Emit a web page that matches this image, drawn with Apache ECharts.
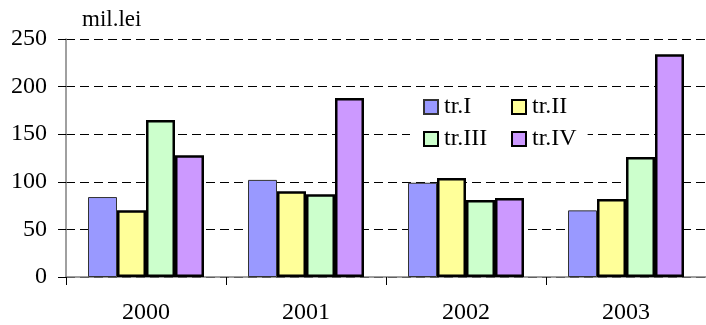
<!DOCTYPE html>
<html>
<head>
<meta charset="utf-8">
<script src="https://cdn.jsdelivr.net/npm/echarts@6/dist/echarts.min.js"></script>
<style>
html,body{margin:0;padding:0;background:#fff;}
#chart{width:706px;height:325px;}
</style>
</head>
<body>
<div id="chart"></div>
<script>
const categories = ['2000', '2001', '2002', '2003'];
const seriesNames = ['tr.I', 'tr.II', 'tr.III', 'tr.IV'];
const trI = [84, 102, 99, 70];
const trII = [70, 90, 104, 82];
const trIII = [165, 87, 81, 126];
const trIV = [128, 188, 83, 234];
const yTicks = [0, 50, 100, 150, 200, 250];
const unitLabel = 'mil.lei';

const colors = ['#9999FF', '#FFFF99', '#CCFFCC', '#CC99FF'];
const values = [trI, trII, trIII, trIV];
const font = '"Liberation Serif", "Times New Roman", serif';

const chart = echarts.init(document.getElementById('chart'), null, {renderer: 'canvas'});

const series = seriesNames.map((name, i) => ({
  name: name,
  type: 'bar',
  data: values[i],
  barWidth: 29,
  barGap: '0%',
  itemStyle: {
    color: colors[i],
    borderColor: i === 0 ? '#333' : '#000',
    borderWidth: i === 0 ? 1 : 2.5
  },
  emphasis: {disabled: true}
}));

function legendFor(idx, left, top, padding, bg) {
  return {
    data: [seriesNames[idx]],
    left: left,
    top: top,
    orient: 'horizontal',
    itemWidth: 14,
    itemHeight: 14,
    itemGap: 6,
    icon: 'rect',
    textStyle: {fontFamily: font, fontSize: 24, color: '#000', padding: [2, 0, 0, 1]},
    backgroundColor: bg ? '#fff' : 'transparent',
    padding: padding
  };
}

chart.setOption({
  animation: false,
  title: {
    text: unitLabel,
    left: 82,
    top: 8,
    padding: 0,
    textStyle: {fontFamily: font, fontSize: 23, fontWeight: 'normal', color: '#000'}
  },
  grid: {left: 66, right: 0, top: 39, bottom: 46},
  legend: [
    legendFor(0, 423, 95, [0, 0, 0, 0], false),
    legendFor(1, 511, 95, [0, 0, 0, 0], false),
    legendFor(2, 410, 123, [4, 40, 4, 13], true),
    legendFor(3, 500, 123, [4, 11, 4, 11], true)
  ],
  xAxis: {
    type: 'category',
    data: categories,
    boundaryGap: true,
    axisLine: {lineStyle: {color: '#808080', width: 1.5}},
    axisTick: {show: true, alignWithLabel: false, length: 8, lineStyle: {color: '#000', width: 1}},
    axisLabel: {fontFamily: font, fontSize: 24, color: '#000', margin: 24}
  },
  yAxis: {
    type: 'value',
    min: yTicks[0],
    max: yTicks[yTicks.length - 1],
    interval: yTicks[1] - yTicks[0],
    axisLine: {show: true, lineStyle: {color: '#808080', width: 1.5}},
    axisTick: {show: true, length: 8, lineStyle: {color: '#000', width: 1}},
    axisLabel: {fontFamily: font, fontSize: 24, color: '#000', margin: 19},
    splitLine: {show: true, lineStyle: {color: '#000', width: 1, type: [9, 5]}}
  },
  series: series
});
</script>
</body>
</html>
